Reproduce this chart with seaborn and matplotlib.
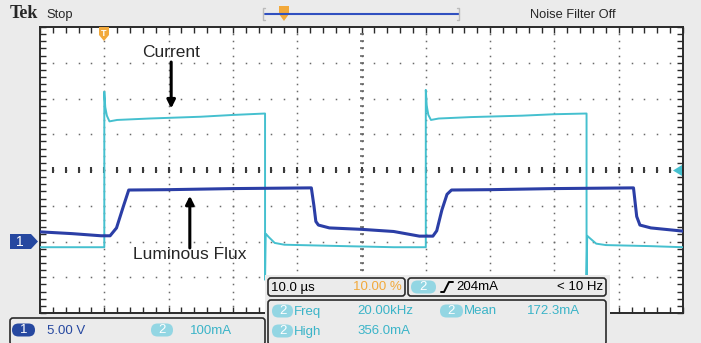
import numpy as np
import pandas as pd
import matplotlib
matplotlib.use("Agg")
import matplotlib.pyplot as plt
from matplotlib.patches import FancyBboxPatch, Polygon, Rectangle
import seaborn as sns

# --- trace data (time in us) ---
cur_t = [0, 10.0, 10.0, 10.15, 10.4, 10.8, 12, 17, 25, 30, 35.0,
         35.0, 35.1, 35.6, 36.5, 38, 45, 55,
         60.0, 60.0, 60.15, 60.4, 60.8, 62, 67, 75, 80, 85.0,
         85.0, 85.1, 85.6, 86.5, 88, 95, 100]
cur_mA = [0, 0, 435, 392, 368, 352, 356, 360, 365, 370, 374,
          -91, 38, 28, 12, 7, 4, 0,
          0, 440, 395, 370, 356, 360, 364, 368, 372, 374,
          -80, 32, 24, 10, 6, 3, 0]

flux_t = [0, 5, 9.5, 10.9, 11.9, 12.96, 13.8, 20, 30, 42.2, 42.6, 42.9, 43.3, 45, 50, 55,
          59, 61.1, 61.7, 62.5, 63.3, 64.0, 70, 80, 92.3, 92.8, 93.3, 95, 100]
flux_V = [1.35, 1.1, 0.8, 0.8, 1.9, 4.9, 7.2, 7.25, 7.4, 7.5, 5.0, 2.8, 2.3, 1.9, 1.7, 1.4,
          0.75, 0.75, 1.5, 4.4, 6.6, 7.2, 7.25, 7.4, 7.5, 3.5, 2.3, 1.9, 1.45]

# channel settings
ch1_volts_div = 5.0
ch1_ground_div = -2.0
ch2_mA_div = 100.0
ch2_zero_div = -2.16

cyan = "#45c0cf"
blue = "#2b3ea6"
cyan_txt = "#3bb4c8"
cyan_pill = "#93d6e3"
blue_pill = "#2648a0"
orange = "#f2a93b"
dark = "#2a2a2a"
bg = "#ebebeb"
fs = 9.5

sns.set_style("white")
plt.rcParams['font.family'] = ['Liberation Sans', 'DejaVu Sans']

df = pd.concat([
    pd.DataFrame({'t': cur_t, 'div': ch2_zero_div + np.array(cur_mA) / ch2_mA_div, 'ch': 'Current'}),
    pd.DataFrame({'t': flux_t, 'div': ch1_ground_div + np.array(flux_V) / ch1_volts_div, 'ch': 'Flux'}),
], ignore_index=True)

W, H = 701, 343
fig = plt.figure(figsize=(W / 100, H / 100), dpi=100, facecolor=bg)
ax = fig.add_axes([40 / W, 1 - 313 / H, 643 / W, 286 / H], facecolor='white')
ax.set_xlim(0, 100)
ax.set_ylim(-4, 4)

# graticule dots
for gx in range(10, 100, 10):
    ys = np.arange(-4, 4.01, 0.2)
    ax.plot(np.full_like(ys, gx), ys, ls='none', marker='s', ms=1.1, mew=0, color='#6a6a6a', zorder=1)
for gy in range(-3, 4):
    xs = np.arange(0, 100.1, 2)
    ax.plot(xs, np.full_like(xs, gy), ls='none', marker='s', ms=1.1, mew=0, color='#6a6a6a', zorder=1)
# center axis dashes
xs = np.arange(2, 100, 2)
ax.plot(xs, np.zeros_like(xs), ls='none', marker='|', ms=4, mew=1.5, color='#3a3a3a', zorder=1)
ys = np.arange(-3.8, 4, 0.2)
ax.plot(np.full_like(ys, 50), ys, ls='none', marker='_', ms=3.5, mew=1.1, color='#606060', zorder=1)

sns.lineplot(data=df, x='t', y='div', hue='ch', palette={'Current': cyan, 'Flux': blue},
             estimator=None, sort=False, legend=False, ax=ax, zorder=3)
for line, lw in zip(ax.get_lines()[-2:], [1.4, 2.2]):
    line.set_linewidth(lw)
ax.set_xlabel('')
ax.set_ylabel('')

ax.set_xticks(np.arange(0, 101, 10))
ax.set_yticks(np.arange(-4, 5, 1))
ax.set_xticks(np.arange(0, 101, 2), minor=True)
ax.set_yticks(np.arange(-4, 4.01, 0.2), minor=True)
ax.tick_params(which='both', direction='in', top=True, right=True, bottom=True, left=True,
               labelbottom=False, labelleft=False, length=4, width=1, color=dark)
for s in ax.spines.values():
    s.set_color(dark)
    s.set_linewidth(1.4)

# annotations
arrow = dict(arrowstyle='-|>', lw=2.2, color='black', shrinkA=0, shrinkB=0, mutation_scale=12)
ax.text(20.4, 3.3, 'Current', ha='center', va='center', fontsize=12.5, zorder=5)
ax.annotate('', xy=(20.4, 1.72), xytext=(20.4, 3.02), arrowprops=arrow, zorder=5)
ax.text(23.3, -2.37, 'Luminous Flux', ha='center', va='center', fontsize=12.5, zorder=5)
ax.annotate('', xy=(23.3, -0.72), xytext=(23.3, -2.18), arrowprops=arrow, zorder=5)

# overlay in pixel units for the screen furniture
ov = fig.add_axes([0, 0, 1, 1], zorder=10)
ov.set_xlim(0, W)
ov.set_ylim(H, 0)
ov.axis('off')
ov.patch.set_alpha(0)


def box(x0, y0, x1, y1, fc=bg, ec=dark, r=3, lw=1.2):
    ov.add_patch(FancyBboxPatch((x0, y0), x1 - x0, y1 - y0, boxstyle=f"round,pad=0,rounding_size={r}",
                                fc=fc, ec=ec, lw=lw))


def pill(x0, x1, yc, label, fc, h=13):
    box(x0, yc - h / 2, x1, yc + h / 2, fc=fc, ec='none', r=h / 2)
    ov.text((x0 + x1) / 2, yc, label, color='white', ha='center', va='center', fontsize=9.5)


# cover the bottom graticule where the readouts sit
ov.add_patch(Rectangle((265, 275), 345, 70, fc=bg, ec='none'))

box(268, 278, 405, 296)
ov.text(271, 287.5, '10.0 µs', fontsize=fs, va='center', color='black')
ov.text(402, 287.5, '10.00 %', fontsize=fs, va='center', ha='right', color=orange)

box(408, 278, 606, 296)
pill(411, 436, 287, '2', cyan_pill)
ov.plot([441, 444, 449, 453], [292, 292, 282, 282], color='black', lw=1.4)
ov.text(456, 287.5, '204mA', fontsize=fs, va='center', color='black')
ov.text(603, 287.5, '< 10 Hz', fontsize=fs, va='center', ha='right', color='black')

box(268, 300, 606, 345)
pill(272, 293, 311, '2', cyan_pill)
ov.text(294, 311.5, 'Freq', fontsize=fs, va='center', color=cyan_txt)
ov.text(357, 311.5, '20.00kHz', fontsize=fs, va='center', color=cyan_txt)
pill(440, 463, 311, '2', cyan_pill)
ov.text(464, 311.5, 'Mean', fontsize=fs, va='center', color=cyan_txt)
ov.text(527, 311.5, '172.3mA', fontsize=fs, va='center', color=cyan_txt)
pill(272, 293, 331, '2', cyan_pill)
ov.text(294, 331.5, 'High', fontsize=fs, va='center', color=cyan_txt)
ov.text(357, 331.5, '356.0mA', fontsize=fs, va='center', color=cyan_txt)

box(10, 318, 265, 345)
pill(12, 35, 330, '1', blue_pill)
ov.text(47, 330.5, '5.00 V', fontsize=fs, va='center', color=blue_pill)
pill(151, 173, 330, '2', cyan_pill)
ov.text(190, 330.5, '100mA', fontsize=fs, va='center', color=cyan_txt)

# header
ov.text(10, 14, 'Tek', family='Liberation Serif', weight='bold', fontsize=13, va='center')
ov.text(46, 15, 'Stop', fontsize=9.3, va='center')
ov.text(530, 15, 'Noise Filter Off', fontsize=9.3, va='center')
ov.plot([265, 459], [14, 14], color='#3050c0', lw=1.5)
ov.plot([265, 263, 263, 265], [8, 8, 20, 20], color='#bbbbbb', lw=1)
ov.plot([457, 459, 459, 457], [8, 8, 20, 20], color='#bbbbbb', lw=1)
ov.add_patch(Polygon([[279, 6], [289, 6], [289, 14], [284, 21], [279, 14]], fc=orange, ec='none'))

# trigger position marker, channel markers
ov.add_patch(Polygon([[99, 27], [109, 27], [109, 35], [104, 41], [99, 35]], fc=orange, ec='none'))
ov.text(104, 33, 'T', color='white', fontsize=6.5, ha='center', va='center', weight='bold')
ov.add_patch(Polygon([[10, 234], [31, 234], [38, 241.5], [31, 249], [10, 249]], fc=blue_pill, ec='none'))
ov.text(20, 241.5, '1', color='white', fontsize=10, ha='center', va='center')
ov.add_patch(Polygon([[673, 170.5], [682, 165], [682, 176]], fc=cyan, ec='none'))

fig.savefig('out.png', dpi=100, facecolor=bg)
